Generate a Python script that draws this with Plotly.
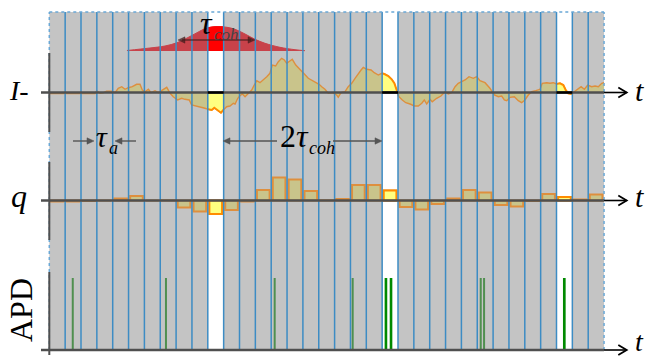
import plotly.graph_objects as go

# ---------------- data ----------------
N_SLOTS = 35                 # detector time slots (width tau_a)
WHITE_SLOTS = [10, 21, 32]   # slots kept every 2*tau_coh

# I- quadrature signal: time (in slot units) and amplitude
I_T = [0.00, 2.88, 2.99, 3.20, 3.41, 3.62, 3.94, 4.15, 4.35, 4.57, 4.78, 4.98, 5.24, 5.51,
       5.72, 5.87, 6.04, 6.25, 6.42, 6.67, 6.88, 7.09, 7.26, 7.41, 7.62, 7.82, 8.10, 8.35,
       8.56, 8.83, 8.98, 9.30, 9.62, 9.82, 10.03, 10.25, 10.41, 10.62, 10.83, 10.98, 11.19,
       11.40, 11.61, 11.72, 11.89, 12.03, 12.18, 12.35, 12.56, 12.77, 12.93, 13.09, 13.29,
       13.50, 13.72, 13.92, 14.07, 14.28, 14.45, 14.66, 14.83, 14.98, 15.19, 15.33, 15.55,
       15.82, 16.09, 16.34, 16.56, 16.81, 17.02, 17.19, 17.39, 17.60, 17.86, 18.13, 18.23,
       18.40, 18.66, 18.86, 19.08, 19.29, 19.50, 19.67, 19.81, 20.03, 20.30, 20.50, 20.76,
       20.97, 21.14, 21.39, 21.60, 21.77, 21.92, 22.06, 22.27, 22.49, 22.76, 23.03, 23.28,
       23.50, 23.66, 23.81, 24.02, 24.16, 24.44, 24.71, 24.97, 25.17, 25.39, 25.60, 25.80,
       26.02, 26.23, 26.48, 26.75, 26.97, 27.17, 27.49, 27.80, 28.08, 28.33, 28.54, 28.71,
       28.86, 29.07, 29.34, 29.59, 29.80, 30.01, 30.22, 30.44, 30.69, 30.96, 31.10, 31.38,
       31.59, 31.80, 32.01, 32.22, 32.43, 32.58, 32.74, 32.96, 33.12, 33.34, 33.55, 33.76,
       33.97, 34.22, 34.43, 34.64, 34.85, 35.00]
I_V = [-0.10, -0.10, 0.18, -0.08, -0.02, 0.12, 0.12, -0.02, 0.42, 0.58, 0.32, 0.48, 0.58, 0.82,
       0.82, 0.25, 0.08, 0.32, -0.02, 0.18, -0.02, 0.18, 0.32, 0.52, -0.08, -0.42, -0.75, -0.58,
       -0.68, -0.75, -1.25, -1.35, -1.48, -1.58, -1.68, -1.75, -1.52, -1.75, -2.02, -1.75, -1.42,
       -1.35, -1.08, -1.15, -0.58, -0.32, -0.15, -0.42, -0.08, 0.25, 0.75, 1.18, 0.98,
       1.25, 1.58, 1.92, 2.75, 2.65, 3.08, 3.42, 3.25, 2.92, 3.18, 3.32, 2.75,
       2.25, 1.85, 1.42, 1.25, 0.98, 0.82, 0.58, 0.32, -0.08, -0.02, -0.25, -0.48,
       -0.02, 0.08, 0.58, 0.92, 1.42, 1.92, 2.25, 2.52, 2.32, 2.25, 1.98, 1.75,
       1.92, 1.85, 1.65, 1.32, 0.92, 0.08, -0.42, -0.75, -1.02, -1.15, -1.35, -1.35,
       -1.08, -0.75, -1.15, -0.68, -0.92, -0.58, -0.35, 0.08, -0.15, -0.02, 0.58, 0.92,
       1.08, 1.25, 1.58, 1.42, 1.58, 1.18, 0.98, 0.42, -0.25, -0.42, -0.35, -0.75,
       -0.82, -0.48, -0.42, -0.82, -1.02, -0.75, -0.25, 0.08, 0.18, 0.32, 0.92, 0.98,
       0.92, 0.98, 0.85, 0.92, 0.75, 0.25, -0.08, -0.15, 0.08, 0.32, 0.58, 0.32,
       0.75, 0.58, 0.65, 0.58, 0.92, 0.98]

# coherence envelope (time in slot units, height)
GAUSS_T = [4.90, 6.35, 7.30, 8.06, 8.69, 9.32, 9.82, 10.26, 10.77, 11.21, 11.72,
           12.35, 12.98, 13.61, 14.55, 15.50, 16.13]
GAUSS_V = [0.05, 0.30, 0.50, 0.83, 1.30, 1.83, 2.23, 2.40, 2.43, 2.37, 2.17,
           1.70, 1.17, 0.77, 0.37, 0.13, 0.03]

# slot-integrated quadrature q, one value per slot
Q_V = [-0.10, -0.10, -0.05, 0.00, 0.20, 0.45, 0.00, 0.02, -0.70, -1.10,
       -1.35, -0.95, -0.10, 1.05, 2.30, 2.10, 0.95, 0.02, 0.15, 1.55,
       1.55, 1.00, -0.65, -0.90, -0.35, 0.20, 1.05, 0.80, -0.45, -0.60,
       -0.05, 0.65, 0.35, 0.10, 0.60]

# APD click times (slot units)
APD_T = [1.48, 7.36, 14.22, 19.14, 21.24, 21.56, 27.22, 27.43, 32.49]
APD_H = 1.0

# ---------------- layout geometry ----------------
W, H = 645, 358
X0_PX, SLOT_PX = 49.3, 15.85
TOP_PX, BOT_PX = 12, 350
I_ZERO_PX, G_ZERO_PX, Q_ZERO_PX, A_ZERO_PX = 92.5, 51, 200.5, 350
I_SCALE, Q_SCALE, A_SCALE = 10.0, 10.0, 72.0   # pixels per unit

GRAY = "#c4c4c4"
BLUE = "#3d8cc4"
OLIVE = "#c9c48b"
ORANGE_DIM = "#de8f3e"
YELLOW = "#ffff80"
ORANGE = "#ff8c00"
RED_DIM = "#c8424a"
RED = "#ff0000"
GREEN_DIM = "#4f8f4f"
GREEN = "#008a00"
AXIS = "#4f4f4f"
SERIF = "Liberation Serif"


def px(x):
    return x / W


def py(y):
    return 1 - y / H


def t_of(xpx):
    return (xpx - X0_PX) / SLOT_PX


def yrange(zero_px, scale):
    return [-(H - zero_px) / scale, zero_px / scale]


fig = go.Figure()


def add_panel(xa, fill_i, line_i, lw_i, red, bar_fill, bar_line, green, glw):
    # I- signal
    fig.add_trace(go.Scatter(x=I_T, y=I_V, mode="lines", fill="tozeroy",
                             fillcolor=fill_i, line=dict(color=line_i, width=lw_i),
                             xaxis=xa, yaxis="y", hoverinfo="skip"))
    # coherence envelope
    fig.add_trace(go.Scatter(x=GAUSS_T, y=GAUSS_V, mode="lines", fill="tozeroy",
                             fillcolor=red, line=dict(color=red, width=1, shape="spline"),
                             xaxis=xa, yaxis="y2", hoverinfo="skip"))
    # q bars
    fig.add_trace(go.Bar(x=[k + 0.5 for k in range(N_SLOTS)], y=Q_V, width=0.8,
                         marker=dict(color=bar_fill, line=dict(color=bar_line, width=2)),
                         xaxis=xa, yaxis="y3", hoverinfo="skip"))
    # APD clicks
    sx, sy = [], []
    for t in APD_T:
        sx += [t, t, None]
        sy += [0, APD_H, None]
    fig.add_trace(go.Scatter(x=sx, y=sy, mode="lines", line=dict(color=green, width=glw),
                             xaxis=xa, yaxis="y4", hoverinfo="skip"))


add_panel("x", OLIVE, ORANGE_DIM, 1.4, RED_DIM, OLIVE, ORANGE_DIM, GREEN_DIM, 2)
for i, k in enumerate(WHITE_SLOTS):
    add_panel("x%d" % (i + 2), YELLOW, ORANGE, 2, RED, YELLOW, ORANGE, GREEN, 2.6)

hidden = dict(visible=False, showgrid=False, zeroline=False, fixedrange=True)
layout = dict(
    width=W, height=H, margin=dict(l=0, r=0, t=0, b=0),
    paper_bgcolor="white", plot_bgcolor="rgba(0,0,0,0)",
    showlegend=False, barmode="overlay",
    xaxis=dict(range=[t_of(0), t_of(W)], domain=[0, 1], **hidden),
    yaxis=dict(range=yrange(I_ZERO_PX, I_SCALE), domain=[0, 1], **hidden),
    yaxis2=dict(range=yrange(G_ZERO_PX, I_SCALE), overlaying="y", **hidden),
    yaxis3=dict(range=yrange(Q_ZERO_PX, Q_SCALE), overlaying="y", **hidden),
    yaxis4=dict(range=yrange(A_ZERO_PX, A_SCALE), overlaying="y", **hidden),
)
for i, k in enumerate(WHITE_SLOTS):
    x_lo = X0_PX + k * SLOT_PX
    layout["xaxis%d" % (i + 2)] = dict(range=[k, k + 1], domain=[px(x_lo), px(x_lo + SLOT_PX)],
                                      anchor="y", **hidden)
fig.update_layout(**layout)

# ---------------- shapes ----------------
shapes = [dict(type="rect", xref="x", yref="paper", x0=0, x1=N_SLOTS,
               y0=py(BOT_PX), y1=py(TOP_PX), fillcolor=GRAY, line_width=0, layer="below")]
for k in WHITE_SLOTS:
    shapes.append(dict(type="rect", xref="x", yref="paper", x0=k, x1=k + 1,
                       y0=py(BOT_PX), y1=py(TOP_PX), fillcolor="white", line_width=0,
                       layer="below"))
for k in range(1, N_SLOTS):
    shapes.append(dict(type="line", xref="x", yref="paper", x0=k, x1=k,
                       y0=py(BOT_PX), y1=py(TOP_PX), line=dict(color=BLUE, width=1.5)))
for k in (0, N_SLOTS):
    shapes.append(dict(type="line", xref="x", yref="paper", x0=k, x1=k,
                       y0=py(BOT_PX), y1=py(TOP_PX), line=dict(color="#6aa8d6", width=1.5, dash="dot")))
shapes.append(dict(type="line", xref="x", yref="paper", x0=0, x1=N_SLOTS,
                   y0=py(TOP_PX), y1=py(TOP_PX), line=dict(color="#6aa8d6", width=1.5, dash="dot")))

# time axes with arrow heads
t_tick = t_of(41)
t_chev, t_tip = t_of(618.3), t_of(626.7)
for yref, scale in (("y", I_SCALE), ("y3", Q_SCALE), ("y4", A_SCALE)):
    h = 5.0 / scale
    shapes.append(dict(type="line", xref="x", yref=yref, x0=t_tick, x1=N_SLOTS, y0=0, y1=0,
                       line=dict(color=AXIS, width=2.5)))
    shapes.append(dict(type="line", xref="x", yref=yref, x0=N_SLOTS, x1=t_tip, y0=0, y1=0,
                       line=dict(color="black", width=1.6)))
    shapes.append(dict(type="path", xref="x", yref=yref,
                       path="M %.3f,%.3f L %.3f,0 L %.3f,%.3f" % (t_chev, h, t_tip, t_chev, -h),
                       line=dict(color="black", width=1.8)))
for k in WHITE_SLOTS:
    shapes.append(dict(type="line", xref="x", yref="y", x0=k, x1=k + 1, y0=0, y1=0,
                       line=dict(color="black", width=2.5)))

# vertical axis pieces
for a, b in ((53, 132), (162, 240), (272, 355)):
    shapes.append(dict(type="line", xref="x", yref="paper", x0=0, x1=0, y0=py(a), y1=py(b),
                       line=dict(color=AXIS, width=2)))


def arrow(x_head, x_tail, y, color="#555555", width=1.4):
    """Horizontal dimension arrow drawn in pixel positions: shaft plus filled head."""
    d = 1 if x_head > x_tail else -1
    shapes.append(dict(type="line", xref="paper", yref="paper",
                       x0=px(x_tail), x1=px(x_head - 4 * d), y0=py(y), y1=py(y),
                       line=dict(color=color, width=width)))
    shapes.append(dict(type="path", xref="paper", yref="paper",
                       path="M %.5f,%.5f L %.5f,%.5f L %.5f,%.5f Z" % (
                           px(x_head), py(y), px(x_head - 7 * d), py(y - 3.2),
                           px(x_head - 7 * d), py(y + 3.2)),
                       fillcolor=color, line=dict(color=color, width=0.5)))


arrow(178, 216, 40, color="rgba(70,30,30,0.75)")
arrow(255, 216, 40, color="rgba(70,30,30,0.75)")
arrow(94, 73, 141)
arrow(115, 136, 141)
arrow(223, 277, 141)
arrow(382, 333, 141)
fig.update_layout(shapes=shapes)

# ---------------- text ----------------
ann = []


def label(text, x, y, size, color="black", angle=0, anchor="center"):
    ann.append(dict(text=text, x=px(x), y=py(y), xref="paper", yref="paper",
                    showarrow=False, xanchor=anchor, yanchor="middle", textangle=angle,
                    borderpad=0, font=dict(family=SERIF, size=size, color=color)))


label("<i>I</i>-", 19, 90, 28)
label("<i>q</i>", 19, 196, 32)
label("APD", 21, 310, 32, angle=-90)
label("<i>t</i>", 639, 90, 30)
label("<i>t</i>", 639, 196, 30)
label("<i>t</i>", 639, 341, 28)

# symbol + subscript pairs, split at the subscript start
label("<i>τ</i>", 214, 23, 32, anchor="right")
label("<i>coh</i>", 213, 35, 17, color="#444444", anchor="left")
label("<i>τ</i>", 109, 136, 30, anchor="right")
label("<i>a</i>", 108, 148, 18, anchor="left")
label("2<i>τ</i>", 310, 136, 32, anchor="right")
label("<i>coh</i>", 308, 148, 18, anchor="left")

fig.update_layout(annotations=ann)

fig.write_html("out.html", config={"displayModeBar": False})
